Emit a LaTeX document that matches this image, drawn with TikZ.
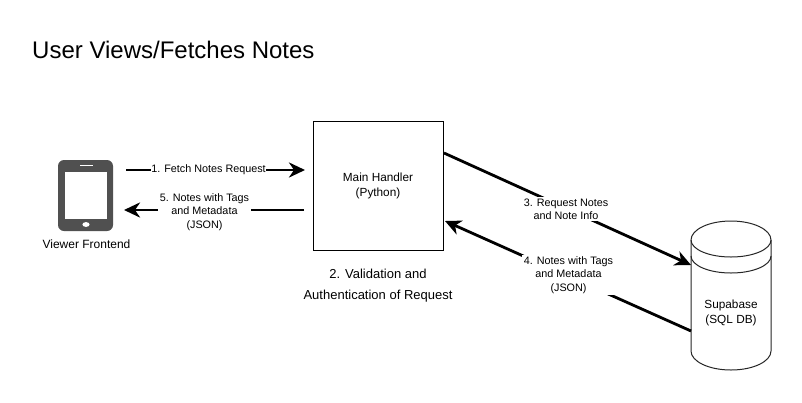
\documentclass[tikz,border=0pt]{standalone}
\usepackage{fontspec}
\setmainfont{Liberation Sans}
\usetikzlibrary{arrows.meta}
\definecolor{phonegray}{HTML}{505050}
\tikzset{
  x=1pt,y=-1pt,
  flow/.style={line width=2.8pt,draw=black,-{Stealth[length=16pt,width=15pt,inset=5pt]}},
  edgelabel/.style={fill=white,inner sep=0.5pt,align=center,font=\fontsize{10.8}{13.4}\selectfont},
  bodytext/.style={inner sep=0pt,align=center,font=\fontsize{11.8}{15}\selectfont},
  outline/.style={draw=black!85,line width=1pt},
}
\begin{document}
\begin{tikzpicture}
\useasboundingbox (0,0) rectangle (802,402);
\fill[white] (0,0) rectangle (802,402);
\node[anchor=west,inner sep=0pt,font=\fontsize{24}{28}\selectfont] (title) at (32,50) {User Views/Fetches Notes};

% phone
\fill[phonegray,rounded corners=6pt] (58,160) rectangle (113,231);
\fill[white] (65,172) rectangle (107,219);
\fill[white] (80,164.5) rectangle (93,166);
\fill[white] (86,224.5) ellipse (3.6 and 2.4);
\node[bodytext,font=\fontsize{12}{14}\selectfont] (viewer) at (86.5,244) {Viewer Frontend};

% main handler
\node[outline,draw=black,minimum width=130pt,minimum height=129pt,inner sep=0pt,anchor=north west,bodytext] (main) at (313,121) {};
\node[bodytext] (maintext) at (378,185.5) {Main Handler\\(Python)};
\node[inner sep=0pt,align=center,font=\fontsize{13}{21}\selectfont] (valid) at (378,285.5) {2. Validation and\\Authentication of Request};

% database
\draw[outline,fill=white] (691,240) arc[start angle=180,end angle=360,x radius=40,y radius=19]
  -- (771,351) arc[start angle=0,end angle=180,x radius=40,y radius=19] -- cycle;
\draw[outline] (691,240) arc[start angle=180,end angle=0,x radius=40,y radius=17];
\draw[outline] (691,256) arc[start angle=180,end angle=0,x radius=40,y radius=17];
\node[bodytext] (db) at (731,312.5) {Supabase\\(SQL DB)};

% connector ends
\coordinate (a1s) at (126,170);
\coordinate (a1e) at (305,170);
\coordinate (a5s) at (304,210);
\coordinate (a5e) at (124,210);
\coordinate (a3s) at (444,153);
\coordinate (a3e) at (691,265);
\coordinate (a4s) at (691,331);
\coordinate (a4e) at (445,221);

\draw[flow] (a1s) -- (a1e);
\draw[flow] (a5s) -- (a5e);
\draw[flow] (a3s) -- (a3e);
\draw[flow] (a4s) -- (a4e);

\node[edgelabel] (l1) at (208.5,170) {1. Fetch Notes Request};
\node[edgelabel,inner sep=1.5pt] (l5) at (204.5,212) {5. Notes with Tags\\and Metadata\\(JSON)};
\node[edgelabel,inner sep=1.5pt] (l3) at (566,209) {3. Request Notes\\and Note Info};
\node[edgelabel,inner sep=1.5pt] (l4) at (568.5,275) {4. Notes with Tags\\and Metadata\\(JSON)};
\end{tikzpicture}
\end{document}
